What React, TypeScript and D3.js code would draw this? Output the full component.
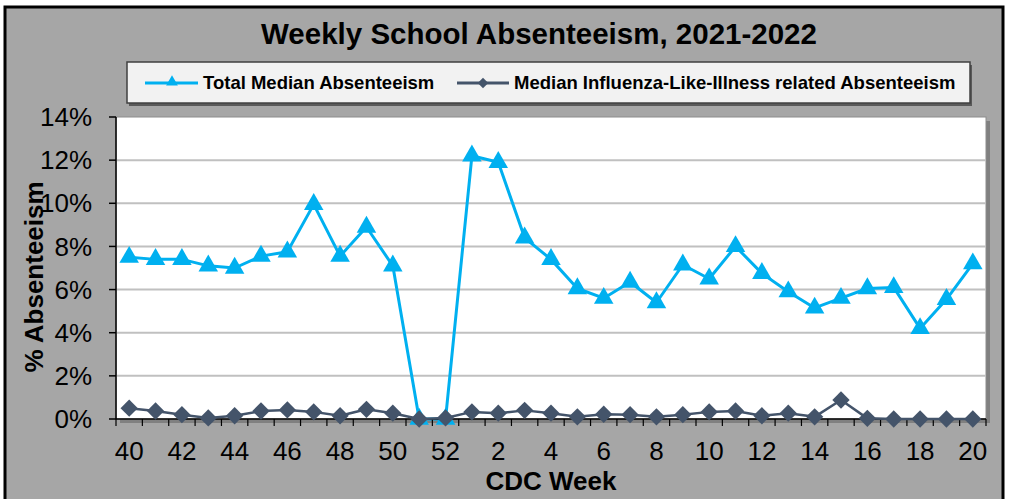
import React from "react";
import * as d3 from "d3";

const weeks: string[] = ["40","41","42","43","44","45","46","47","48","49","50","51","52","1","2","3","4","5","6","7","8","9","10","11","12","13","14","15","16","17","18","19","20"];
const totalMedian: number[] = [7.5,7.4,7.4,7.1,7.0,7.55,7.75,9.95,7.55,8.9,7.1,0,0,12.2,11.9,8.4,7.4,6.05,5.6,6.35,5.4,7.15,6.5,8.0,6.75,5.9,5.15,5.6,6.05,6.1,4.2,5.55,7.2];
const iliMedian: number[] = [0.5,0.37,0.2,0.05,0.15,0.37,0.42,0.33,0.15,0.45,0.27,0,0.05,0.33,0.27,0.4,0.27,0.1,0.22,0.2,0.1,0.2,0.33,0.37,0.15,0.27,0.1,0.88,0.03,0,0,0,0];
const yTicks: number[] = [0,2,4,6,8,10,12,14];
const xLabelWeeks: string[] = ["40","42","44","46","48","50","52","2","4","6","8","10","12","14","16","18","20"];

const W = 1009, H = 499;
const plot = { left: 116, right: 986, top: 117, bottom: 419 };
const CYAN = "#00b0f0";
const SLATE = "#44546a";
const FONT = "Arial, 'Liberation Sans', sans-serif";

export default function App() {
  const x = d3.scaleBand<string>().domain(weeks).range([plot.left, plot.right]).padding(0);
  const y = d3.scaleLinear().domain([0, 14]).range([plot.bottom, plot.top]);
  const cx = (w: string) => (x(w) as number) + x.bandwidth() / 2;

  const lineTotal = d3.line<number>().x((_, i) => cx(weeks[i])).y((d) => y(d))(totalMedian) || "";
  const lineIli = d3.line<number>().x((_, i) => cx(weeks[i])).y((d) => y(d))(iliMedian) || "";
  const tri = d3.symbol().type(d3.symbolTriangle).size(165)() || "";
  const dia = d3.symbol().type(d3.symbolSquare).size(150)() || "";
  const triSmall = d3.symbol().type(d3.symbolTriangle).size(60)() || "";
  const diaSmall = d3.symbol().type(d3.symbolSquare).size(55)() || "";

  const boundaries = weeks.map((w) => x(w) as number).concat([plot.right]);

  return (
    <svg width={W} height={H} style={{ position: "absolute", left: 0, top: 0 }} fontFamily={FONT}>
      <rect x={5} y={7} width={998} height={500} fill="#a6a6a6" stroke="#000" strokeWidth={3} />
      <text x={539} y={44} textAnchor="middle" fontSize={29.5} fontWeight="bold" fill="#000">
        Weekly School Absenteeism, 2021-2022
      </text>

      {/* legend */}
      <rect x={129} y={65} width={843} height={41} fill="#595959" />
      <rect x={127} y={62} width={843} height={41} fill="#f2f2f2" stroke="#404040" strokeWidth={1.5} />
      <line x1={145} x2={198} y1={83} y2={83} stroke={CYAN} strokeWidth={3} />
      <path d={triSmall} transform="translate(172,82)" fill={CYAN} />
      <text x={203} y={89} fontSize={18.5} fontWeight="bold" fill="#000">Total Median Absenteeism</text>
      <line x1={457} x2={509} y1={83} y2={83} stroke={SLATE} strokeWidth={3} />
      <path d={diaSmall} transform="translate(483,83) rotate(45)" fill={SLATE} />
      <text x={514} y={89} fontSize={18.5} fontWeight="bold" fill="#000">Median Influenza-Like-Illness related Absenteeism</text>

      {/* plot area */}
      <rect x={plot.left + 4} y={plot.top + 4} width={plot.right - plot.left} height={plot.bottom - plot.top} fill="#808080" />
      <rect x={plot.left} y={plot.top} width={plot.right - plot.left} height={plot.bottom - plot.top} fill="#fff" stroke="#8c8c8c" strokeWidth={1} />
      {yTicks.filter((t) => t > 0 && t < 14).map((t) => (
        <line key={t} x1={plot.left} x2={plot.right} y1={y(t)} y2={y(t)} stroke="#c0c0c0" strokeWidth={2} />
      ))}

      {/* y axis */}
      <line x1={plot.left} x2={plot.left} y1={plot.top} y2={plot.bottom} stroke="#000" strokeWidth={1.5} />
      {yTicks.map((t) => (
        <g key={t}>
          <line x1={plot.left - 7} x2={plot.left} y1={y(t)} y2={y(t)} stroke="#000" strokeWidth={1.5} />
          <text x={92} y={y(t)} dy="0.35em" textAnchor="end" fontSize={26} fill="#000">{t}%</text>
        </g>
      ))}
      <text transform={`translate(43,277) rotate(-90)`} textAnchor="middle" fontSize={26} fontWeight="bold" fill="#000">% Absenteeism</text>

      {/* series */}
      <path d={lineTotal} fill="none" stroke={CYAN} strokeWidth={3} strokeLinejoin="round" />
      {totalMedian.map((v, i) => (
        <path key={"t" + i} d={tri} transform={`translate(${cx(weeks[i])},${y(v)})`} fill={CYAN} />
      ))}

      {/* x axis */}
      <line x1={plot.left} x2={plot.right} y1={plot.bottom} y2={plot.bottom} stroke="#000" strokeWidth={1.5} />
      {boundaries.map((b, i) => (
        <line key={"b" + i} x1={b} x2={b} y1={plot.bottom} y2={plot.bottom + 7} stroke="#000" strokeWidth={1.2} />
      ))}

      <path d={lineIli} fill="none" stroke={SLATE} strokeWidth={2.5} strokeLinejoin="round" />
      {iliMedian.map((v, i) => (
        <path key={"i" + i} d={dia} transform={`translate(${cx(weeks[i])},${y(v)}) rotate(45)`} fill={SLATE} />
      ))}

      {xLabelWeeks.map((w) => (
        <text key={"xl" + w} x={cx(w)} y={460} textAnchor="middle" fontSize={26} fill="#000">{w}</text>
      ))}
      <text x={551} y={490} textAnchor="middle" fontSize={26} fontWeight="bold" fill="#000">CDC Week</text>
    </svg>
  );
}
